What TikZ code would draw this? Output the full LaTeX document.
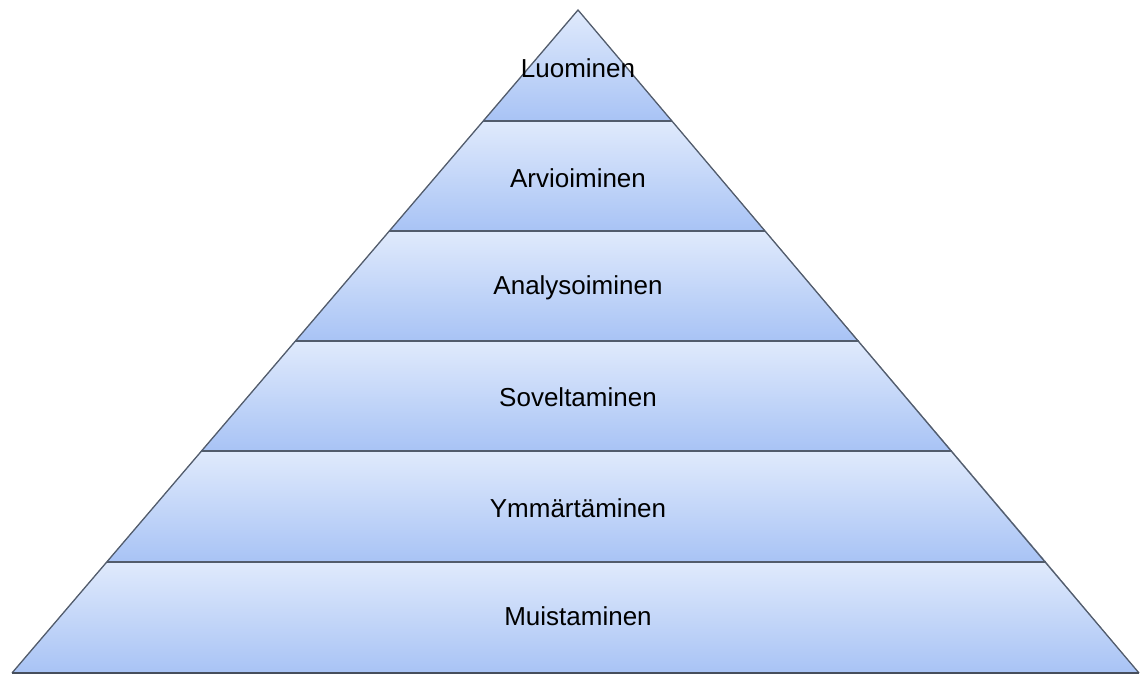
\documentclass[tikz,border=0pt]{standalone}
\usepackage{fontspec}
\setmainfont{Liberation Sans}
\definecolor{bandtop}{HTML}{E0EAFC}
\definecolor{bandbot}{HTML}{A8C3F5}
\definecolor{edge}{HTML}{525C6C}
\tikzset{
  band/.style={top color=bandtop, bottom color=bandbot, draw=none},
  sep/.style={draw=edge, line width=1.6pt},
  lbl/.style={font=\fontsize{26}{30}\selectfont, text=black, inner sep=0pt}
}
\begin{document}
\begin{tikzpicture}[x=1pt,y=-1pt]
\useasboundingbox (0,0) rectangle (1140,675);
\coordinate (A) at (578,10);
\coordinate (L1) at (483.2,121); \coordinate (R1) at (672.1,121);
\coordinate (L2) at (389.3,231); \coordinate (R2) at (765.4,231);
\coordinate (L3) at (295.3,341); \coordinate (R3) at (858.7,341);
\coordinate (L4) at (201.4,451); \coordinate (R4) at (952,451);
\coordinate (L5) at (106.6,562); \coordinate (R5) at (1046.1,562);
\coordinate (L6) at (12,673);    \coordinate (R6) at (1139,673);
\fill[band] (A) -- (R1) -- (L1) -- cycle;
\fill[band] (L1) -- (R1) -- (R2) -- (L2) -- cycle;
\fill[band] (L2) -- (R2) -- (R3) -- (L3) -- cycle;
\fill[band] (L3) -- (R3) -- (R4) -- (L4) -- cycle;
\fill[band] (L4) -- (R4) -- (R5) -- (L5) -- cycle;
\fill[band] (L5) -- (R5) -- (R6) -- (L6) -- cycle;
\draw[sep] (L1) -- (R1);
\draw[sep] (L2) -- (R2);
\draw[sep] (L3) -- (R3);
\draw[sep] (L4) -- (R4);
\draw[sep] (L5) -- (R5);
\draw[draw=edge, line width=1.3pt, line join=miter] (L6) -- (A) -- (R6);
\draw[draw=edge!85!black, line width=2.2pt] (L6) -- (R6);
\node[lbl] (n1) at (578,68) {Luominen};
\node[lbl] (n2) at (578,178) {Arvioiminen};
\node[lbl] (n3) at (578,288) {Analysoiminen};
\node[lbl] (n4) at (578,397) {Soveltaminen};
\node[lbl] (n5) at (578,508) {Ymmärtäminen};
\node[lbl] (n6) at (578,616) {Muistaminen};
\end{tikzpicture}
\end{document}
